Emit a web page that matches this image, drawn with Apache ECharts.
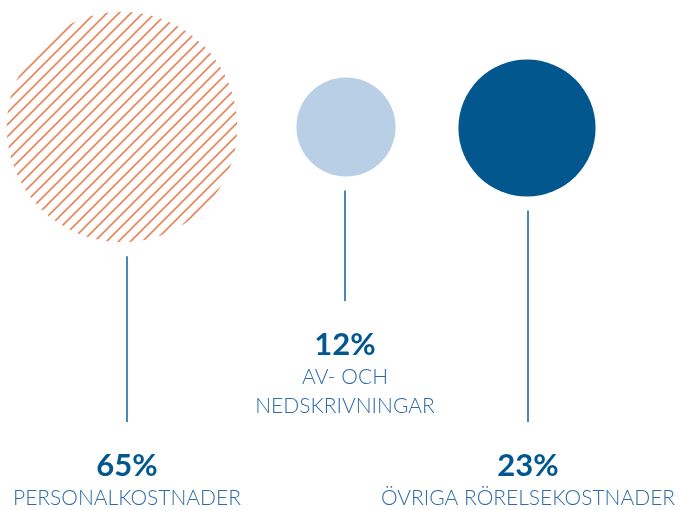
<!DOCTYPE html>
<html>
<head>
<meta charset="utf-8">
<script src="https://cdn.jsdelivr.net/npm/echarts@6/dist/echarts.min.js"></script>
<style>
html, body { margin: 0; background: #fff; }
#chart { width: 679px; height: 510px; }
</style>
</head>
<body>
<div id="chart"></div>
<script>
// data
var categories = ['PERSONALKOSTNADER', 'AV- OCH\nNEDSKRIVNINGAR', 'ÖVRIGA RÖRELSEKOSTNADER'];
var shares = [65, 12, 23];

// layout (pixel slots, not data)
var slotX = [122, 346, 527];
var slotY = [127, 127, 128];
var stemX = [127, 345, 528];
var lineEnd = [422, 301, 422];

// hatch pattern for the first bubble
function hatch(color) {
    var p = 12;
    var c = document.createElement('canvas');
    c.width = p; c.height = p;
    var g = c.getContext('2d');
    g.strokeStyle = color;
    g.lineWidth = 1.6;
    g.beginPath();
    g.moveTo(-2, p + 2); g.lineTo(p + 2, -2);
    g.moveTo(-2, 2); g.lineTo(2, -2);
    g.moveTo(p - 2, p + 2); g.lineTo(p + 2, p - 2);
    g.stroke();
    return {image: c, repeat: 'repeat'};
}
var fills = [hatch('#e8855a'), '#b8cfe6', '#03578f'];

var k = 14.3; // radius per sqrt(%)
function radius(v) { return k * Math.sqrt(v); }

var myChart = echarts.init(document.getElementById('chart'));
var option = {
    animation: false,
    grid: {left: 0, right: 0, top: 0, bottom: 0},
    xAxis: {type: 'value', min: 0, max: 679, show: false},
    yAxis: {type: 'value', min: 0, max: 510, inverse: true, show: false},
    series: [
        {
            type: 'custom',
            data: shares.map(function (v, i) { return [slotX[i], slotY[i], v, i]; }),
            renderItem: function (params, api) {
                var i = api.value(3);
                var c = api.coord([api.value(0), api.value(1)]);
                var r = radius(api.value(2));
                var x = api.coord([stemX[i], 0])[0];
                var top = c[1] + r + 14;
                var end = api.coord([0, lineEnd[i]])[1];
                return {
                    type: 'group',
                    children: [
                        {
                            type: 'circle',
                            shape: {cx: c[0], cy: c[1], r: r},
                            style: {fill: fills[i]}
                        },
                        {
                            type: 'line',
                            shape: {x1: x, y1: top, x2: x, y2: end},
                            style: {stroke: '#4a86b8', lineWidth: 2}
                        },
                        {
                            type: 'text',
                            x: x, y: end + 44,
                            style: {
                                text: api.value(2) + '%',
                                font: 'bold 31px Lato',
                                fill: '#03578f',
                                align: 'center',
                                verticalAlign: 'middle'
                            }
                        },
                        {
                            type: 'text',
                            x: x, y: end + 62,
                            style: {
                                text: categories[i],
                                font: '300 21px Lato',
                                fill: '#2f6ca6',
                                align: 'center',
                                verticalAlign: 'top',
                                lineHeight: 29
                            }
                        }
                    ]
                };
            }
        }
    ]
};
myChart.setOption(option);
</script>
</body>
</html>
